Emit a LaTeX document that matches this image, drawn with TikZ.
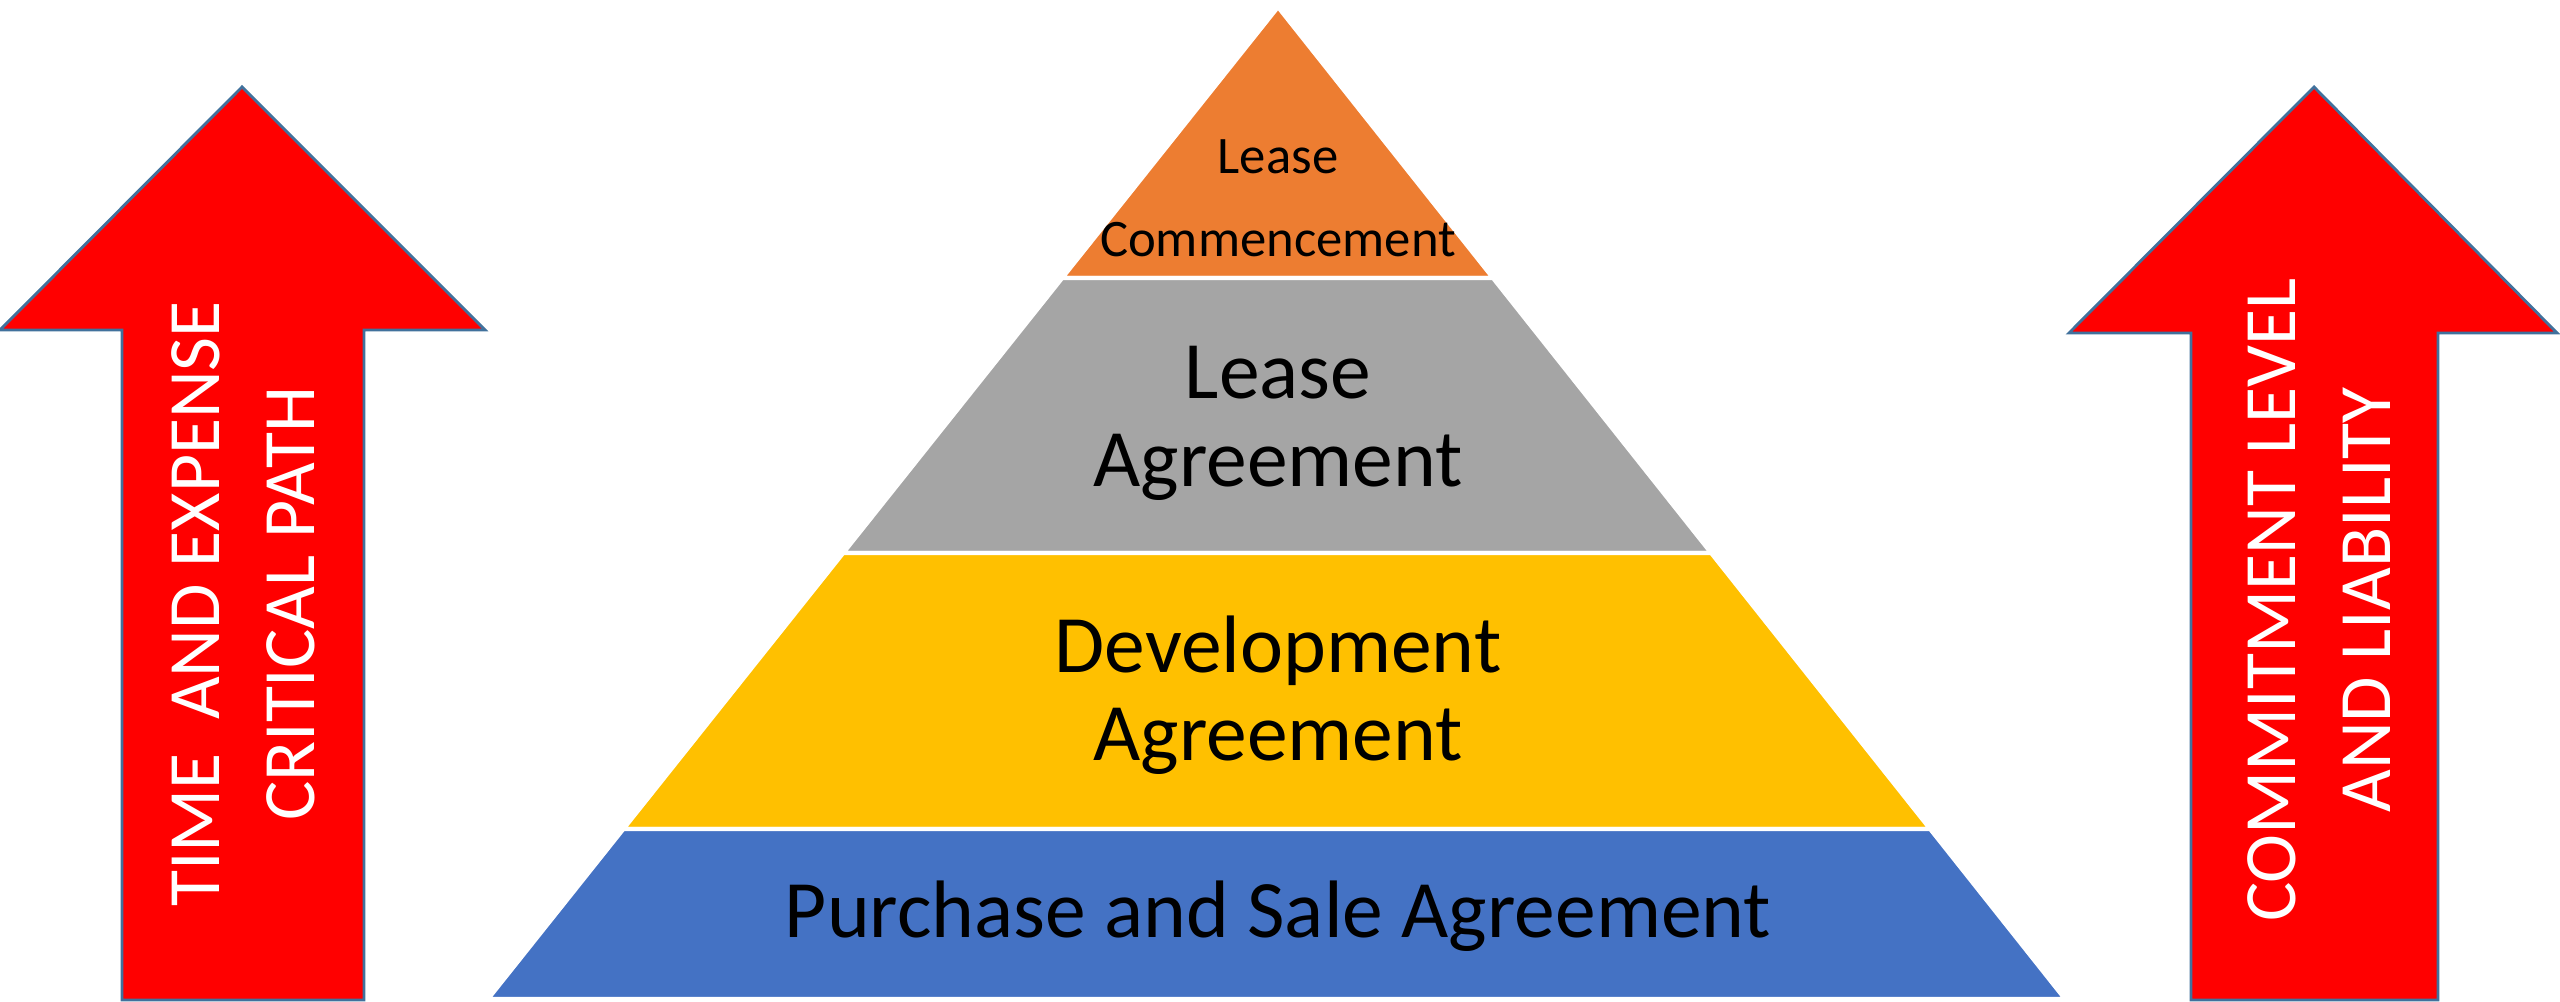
\documentclass[tikz,border=0pt]{standalone}
\usepackage{fontspec}
\setmainfont{Carlito}
\usetikzlibrary{calc}
\definecolor{peach}{HTML}{ED7D31}
\definecolor{ashgray}{HTML}{A5A5A5}
\definecolor{gold}{HTML}{FFC000}
\definecolor{steel}{HTML}{4472C4}
\definecolor{edgeblue}{HTML}{41719C}
\tikzset{
  layer/.style={fill=#1, draw=white, line width=1.2pt},
  bigarrow/.style={fill=red, draw=edgeblue, line width=0.8pt},
  tiertext/.style={align=center, font=\fontsize{23.2}{25}\selectfont},
  arrowtext/.style={align=center, rotate=90, text=white, font=\fontsize{21}{27}\selectfont},
}

\begin{document}
\begin{tikzpicture}
        \useasboundingbox (0,0) rectangle (25.6,10.02);
        % pyramid corners
        \coordinate (T) at (12.78,9.95);
        \coordinate (L) at (4.88,0.03);
        \coordinate (R) at (20.65,0.03);
        % split points along the slopes
        \coordinate (L1) at ($(T)!.2732!(L)$);
        \coordinate (R1) at ($(T)!.2732!(R)$);
        \coordinate (L2) at ($(T)!.5504!(L)$);
        \coordinate (R2) at ($(T)!.5504!(R)$);
        \coordinate (L3) at ($(T)!.8286!(L)$);
        \coordinate (R3) at ($(T)!.8286!(R)$);

        \path[layer=peach] (T)--(R1)--(L1)--cycle;
        \path[layer=ashgray] (L1)--(R1)--(R2)--(L2)--cycle;
        \path[layer=gold] (L2)--(R2)--(R3)--(L3)--cycle;
        \path[layer=steel] (L3)--(R3)--(R)--(L)--cycle;

        \node (comm) at (12.78,8.04) [align=center, font=\fontsize{15}{23.6}\selectfont] {Lease\\Commencement};
        \node (lease) at (12.78,5.79) [tiertext] {Lease\\Agreement};
        \node (dev) at (12.78,3.07) [tiertext] {Development\\Agreement};
        \node (psa) at (12.78,0.86) [tiertext] {Purchase and Sale Agreement};

        % the two red arrows
        \draw[bigarrow] (0,6.72)--(2.42,9.15)--(4.85,6.72)--(3.64,6.72)--(3.64,0.02)--(1.22,0.02)--(1.22,6.72)--cycle;
        \draw[bigarrow] (20.69,6.69)--(23.14,9.15)--(25.57,6.69)--(24.38,6.69)--(24.38,0.02)--(21.91,0.02)--(21.91,6.69)--cycle;

        \node (timetext) at (2.43,3.98) [arrowtext] {TIME~ AND EXPENSE\\CRITICAL PATH};
        \node (committext) at (23.19,4.02) [arrowtext] {COMMITMENT LEVEL\\AND LIABILITY};
    \end{tikzpicture}
\end{document}
